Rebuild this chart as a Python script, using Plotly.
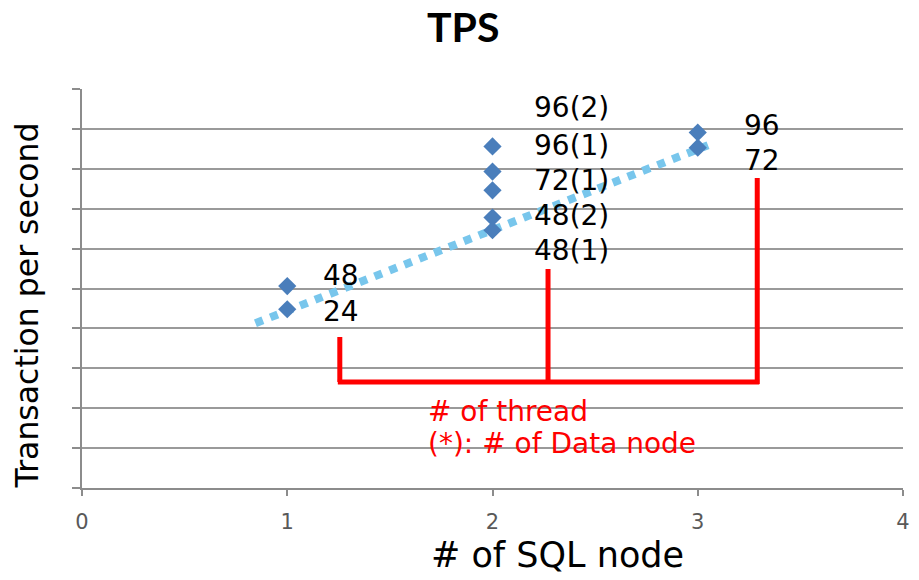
import plotly.graph_objects as go

# ---- data ----
sql_nodes = [1, 1, 2, 2, 2, 2, 2, 3, 3]
tps = [448, 506, 646, 678, 746, 793, 856, 853, 891]
point_labels = ["24", "48", "48(1)", "48(2)", "72(1)", "96(1)", "96(2)", "72", "96"]

trend_x = [0.845, 3.05]
trend_y = [413, 859]

x_ticks = [0, 1, 2, 3, 4]

# ---- layout constants (pixel offsets for the labels) ----
label_yshift = [-2, 11, -20, 2, 10, 26, 39, -13, 7]
label_xshift = {1: 34, 2: 39, 3: 44}

W, H = 919, 580
L, R, T, B = 82, 9, 89, 92
PW, PH = W - L - R, H - T - B


def px(xp):
    return (xp - L) / PW


def py(yp):
    return (H - B - yp) / PH


fig = go.Figure()

fig.add_trace(go.Scatter(
    x=trend_x, y=trend_y, mode="lines",
    line=dict(color="rgb(120,198,236)", width=8, dash="dot"),
    hoverinfo="skip", showlegend=False,
))

fig.add_trace(go.Scatter(
    x=sql_nodes, y=tps, mode="markers",
    marker=dict(symbol="diamond", size=14, color="#4A7EBB", line=dict(width=0)),
    showlegend=False,
))

annotations = []
for xv, yv, lab, ys in zip(sql_nodes, tps, point_labels, label_yshift):
    annotations.append(dict(
        x=xv, y=yv, xref="x", yref="y", text=lab, showarrow=False,
        xanchor="left", yanchor="middle", xshift=label_xshift[xv], yshift=ys,
        font=dict(family="DejaVu Sans", size=28, color="#000000"),
    ))

# Titles
annotations.append(dict(
    x=px(466), y=py(27), xref="paper", yref="paper", text="<b>TPS</b>",
    showarrow=False, xanchor="center", yanchor="middle",
    font=dict(family="Lato", size=41, color="#000000"),
))
annotations.append(dict(
    x=px(27), y=py(305), xref="paper", yref="paper", text="Transaction per second",
    showarrow=False, xanchor="center", yanchor="middle", textangle=-90,
    font=dict(family="DejaVu Sans", size=31.5, color="#000000"),
))
annotations.append(dict(
    x=px(562), y=py(555), xref="paper", yref="paper", text="# of SQL node",
    showarrow=False, xanchor="center", yanchor="middle",
    font=dict(family="DejaVu Sans", size=35, color="#000000"),
))

# Red notes
annotations.append(dict(
    x=px(429), y=py(411), xref="paper", yref="paper", text="# of thread",
    showarrow=False, xanchor="left", yanchor="middle",
    font=dict(family="DejaVu Sans", size=28, color="#FF0000"),
))
annotations.append(dict(
    x=px(429), y=py(443), xref="paper", yref="paper", text="(*): # of Data node",
    showarrow=False, xanchor="left", yanchor="middle",
    font=dict(family="DejaVu Sans", size=28, color="#FF0000"),
))

red = dict(color="#FF0000", width=5)
shapes = [
    dict(type="line", xref="paper", yref="paper", x0=px(342), x1=px(342), y0=py(337), y1=py(382), line=red),
    dict(type="line", xref="paper", yref="paper", x0=px(340), x1=px(765), y0=py(382), y1=py(382), line=red),
    dict(type="line", xref="paper", yref="paper", x0=px(552), x1=px(552), y0=py(269), y1=py(382), line=red),
    dict(type="line", xref="paper", yref="paper", x0=px(763), x1=px(763), y0=py(178), y1=py(384), line=red),
]

fig.update_layout(
    width=W, height=H,
    margin=dict(l=L, r=R, t=T, b=B),
    paper_bgcolor="white", plot_bgcolor="white",
    annotations=annotations, shapes=shapes,
    showlegend=False,
    xaxis=dict(
        range=[0, 4], tickvals=x_ticks, ticktext=[str(v) for v in x_ticks],
        showgrid=False, zeroline=False,
        showline=True, linecolor="#8c8c8c", linewidth=1.5,
        ticks="outside", ticklen=6, tickcolor="#8c8c8c", tickwidth=1.5,
        tickfont=dict(family="DejaVu Sans", size=21, color="#595959"),
        ticklabelstandoff=8,
    ),
    yaxis=dict(
        range=[0, 1000], dtick=100, showticklabels=False,
        showgrid=True, gridcolor="#9a9a9a", gridwidth=1.5,
        zeroline=False,
        showline=True, linecolor="#8c8c8c", linewidth=1.5,
        ticks="outside", ticklen=8, tickcolor="#8c8c8c", tickwidth=1.5,
    ),
)

fig.write_html(
    "out.html",
    config={"displayModeBar": False},
    post_script="document.body.style.margin='0';document.body.style.overflow='hidden';",
)
